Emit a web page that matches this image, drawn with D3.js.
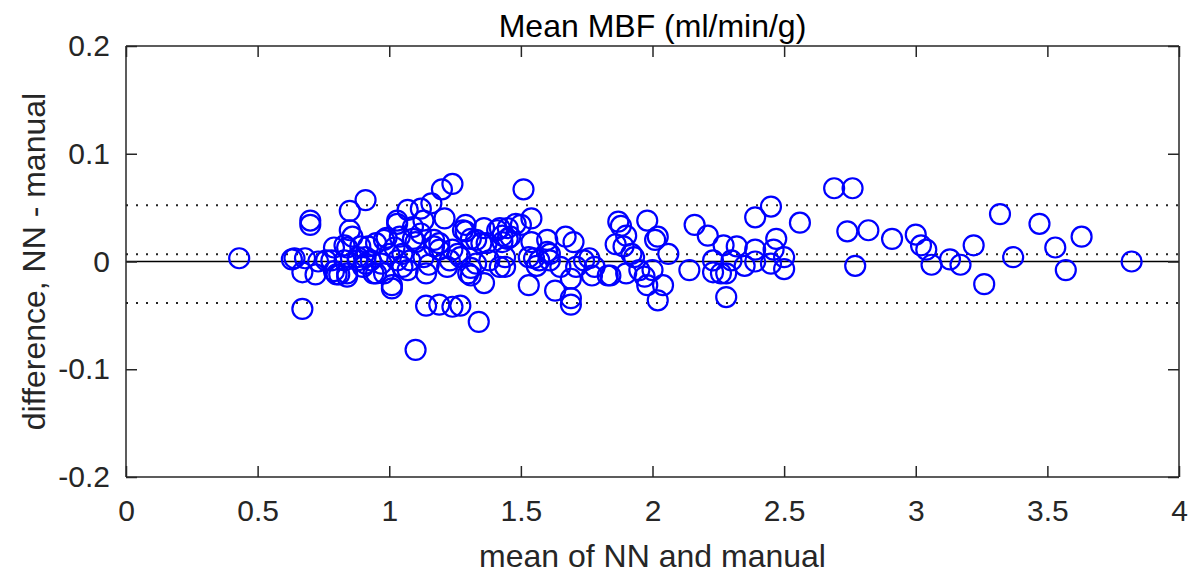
<!DOCTYPE html>
<html>
<head>
<meta charset="utf-8">
<script src="https://cdn.jsdelivr.net/npm/d3@7"></script>
<style>
  body { margin: 0; background: #fff; }
  svg { display: block; font-family: "Liberation Sans", Arial, Helvetica, sans-serif; }
</style>
</head>
<body>
<svg id="chart"></svg>
<script>
// Bland-Altman data: mean of NN and manual (x) vs difference NN - manual (y)
const meanVals = [
  0.43, 0.63, 0.64, 0.68, 0.67, 0.67, 0.70, 0.70, 0.72, 0.73,
  0.76, 0.79, 0.78, 0.79, 0.80, 0.81, 0.83, 0.84, 0.83, 0.84,
  0.84, 0.85, 0.85, 0.86, 0.88, 0.88, 0.89, 0.90, 0.91, 0.91,
  0.92, 0.91, 0.93, 0.94, 0.95, 0.95, 0.97, 0.98, 0.98, 0.99,
  1.00, 1.01, 1.01, 1.02, 1.03, 1.03, 1.03, 1.04, 1.05, 1.05,
  1.07, 1.07, 1.08, 1.09, 1.09, 1.10, 1.10, 1.12, 1.12, 1.13,
  1.13, 1.14, 1.14, 1.15, 1.16, 1.17, 1.17, 1.19, 1.19, 1.19,
  1.20, 1.21, 1.22, 1.23, 1.24, 1.24, 1.24, 1.26, 1.27, 1.27,
  1.28, 1.29, 1.29, 1.30, 1.31, 1.31, 1.31, 1.33, 1.33, 1.34,
  1.35, 1.36, 1.36, 1.37, 1.38, 1.41, 1.42, 1.42, 1.43, 1.43,
  1.44, 1.44, 1.45, 1.45, 1.46, 1.48, 1.50, 1.51, 1.53, 1.53,
  1.54, 1.54, 1.55, 1.56, 1.57, 1.60, 1.60, 1.61, 1.61, 1.63,
  1.65, 1.67, 1.69, 1.69, 1.69, 1.70, 1.71, 1.74, 1.76, 1.77,
  1.78, 1.83, 1.84, 1.86, 1.87, 1.88, 1.89, 1.90, 1.90, 1.92,
  1.93, 1.95, 1.97, 1.98, 1.98, 2.00, 2.01, 2.02, 2.02, 2.04,
  2.06, 2.14, 2.16, 2.21, 2.23, 2.23, 2.26, 2.27, 2.28, 2.28,
  2.30, 2.32, 2.35, 2.39, 2.39, 2.39, 2.45, 2.45, 2.46, 2.47,
  2.50, 2.50, 2.56, 2.69, 2.74, 2.76, 2.77, 2.82, 2.91, 3.00,
  3.02, 3.04, 3.06, 3.13, 3.17, 3.22, 3.26, 3.32, 3.37, 3.47,
  3.53, 3.57, 3.63, 3.82
];
const diffVals = [
  0.003, 0.002, 0.003, 0.003, -0.010, -0.044, 0.038, 0.034, -0.012, 0.000,
  0.001, 0.013, 0.001, -0.009, -0.012, -0.012, 0.015, 0.013, 0.001, -0.011,
  -0.014, 0.047, 0.029, 0.023, 0.004, 0.001, 0.014, -0.005, 0.057, -0.002,
  0.014, 0.004, 0.001, -0.011, 0.017, -0.011, -0.002, 0.020, -0.011, 0.022,
  0.007, -0.022, -0.025, 0.013, 0.038, 0.035, 0.001, 0.023, 0.007, -0.005,
  0.048, -0.008, 0.001, 0.032, 0.021, 0.018, -0.082, 0.049, 0.026, 0.038,
  0.004, -0.011, -0.041, -0.003, 0.054, 0.014, 0.020, 0.017, 0.011, -0.040,
  0.067, 0.040, -0.005, 0.001, 0.072, 0.011, -0.042, 0.007, 0.004, -0.041,
  0.029, 0.034, 0.028, -0.011, -0.013, -0.006, 0.021, 0.020, -0.002, -0.056,
  0.017, 0.031, -0.020, 0.017, 0.001, 0.029, 0.031, -0.005, 0.024, 0.018,
  0.004, -0.005, 0.031, 0.021, 0.023, 0.035, 0.034, 0.067, 0.004, -0.022,
  0.040, 0.018, 0.003, -0.004, 0.001, 0.020, 0.009, 0.001, 0.007, -0.027,
  -0.005, 0.023, -0.016, -0.034, -0.040, 0.018, -0.005, 0.001, 0.003, -0.013,
  -0.005, -0.013, -0.013, 0.016, 0.037, 0.033, 0.014, 0.024, -0.011, 0.007,
  0.004, -0.008, -0.014, 0.038, -0.022, -0.008, 0.020, 0.023, -0.036, -0.022,
  0.007, -0.008, 0.034, 0.024, 0.001, -0.010, -0.011, 0.015, -0.011, -0.033,
  0.001, 0.014, -0.004, 0.041, 0.011, 0.000, 0.051, -0.002, 0.011, 0.021,
  0.004, -0.007, 0.036, 0.068, 0.028, 0.068, -0.004, 0.029, 0.021, 0.025,
  0.015, 0.011, -0.003, 0.002, -0.003, 0.015, -0.021, 0.044, 0.004, 0.035,
  0.013, -0.008, 0.023, 0.000
];

// bias and limits of agreement (dotted lines)
const meanDiff = 0.0068;
const upperLimit = 0.0523;
const lowerLimit = -0.0384;

const xTicks = [0, 0.5, 1, 1.5, 2, 2.5, 3, 3.5, 4];
const yTicks = [-0.2, -0.1, 0, 0.1, 0.2];

const width = 1190;
const height = 576;
const margin = { top: 46, right: 11, bottom: 99, left: 126 };

const svg = d3.select("#chart")
    .attr("width", width)
    .attr("height", height);

const x = d3.scaleLinear().domain([0, 4]).range([margin.left, width - margin.right]);
const y = d3.scaleLinear().domain([-0.2, 0.2]).range([height - margin.bottom, margin.top]);

const axisColor = "#262626";

// reference lines
svg.append("line")
    .attr("x1", x(0)).attr("x2", x(4))
    .attr("y1", y(0)).attr("y2", y(0))
    .attr("stroke", "#000").attr("stroke-width", 1.5);

[meanDiff, upperLimit, lowerLimit].forEach(v => {
    svg.append("line")
        .attr("x1", x(0)).attr("x2", x(4))
        .attr("y1", y(v)).attr("y2", y(v))
        .attr("stroke", "#222").attr("stroke-width", 2)
        .attr("stroke-dasharray", "2,8");
});

// points
const pts = meanVals.map((m, i) => ({ m: m, d: diffVals[i] }));
svg.append("g").selectAll("circle")
    .data(pts)
    .join("circle")
    .attr("cx", d => x(d.m))
    .attr("cy", d => y(d.d))
    .attr("r", 10)
    .attr("fill", "none")
    .attr("stroke", "#0000ff")
    .attr("stroke-width", 2.2);

// axes with inward ticks on all four sides
const tickLen = 11;
const fmt = d => String(d);   // plain hyphen minus like the original

const xAxis = svg.append("g")
    .attr("transform", `translate(0,${y(-0.2)})`)
    .call(d3.axisBottom(x).tickValues(xTicks).tickSize(-tickLen).tickPadding(23).tickFormat(fmt));
const yAxis = svg.append("g")
    .attr("transform", `translate(${x(0)},0)`)
    .call(d3.axisLeft(y).tickValues(yTicks).tickSize(-tickLen).tickPadding(16).tickFormat(fmt));
const xTop = svg.append("g")
    .attr("transform", `translate(0,${y(0.2)})`)
    .call(d3.axisTop(x).tickValues(xTicks).tickSize(-tickLen).tickFormat(""));
const yRight = svg.append("g")
    .attr("transform", `translate(${x(4)},0)`)
    .call(d3.axisRight(y).tickValues(yTicks).tickSize(-tickLen).tickFormat(""));

[xAxis, yAxis, xTop, yRight].forEach(g => {
    g.selectAll(".tick line").attr("stroke", axisColor).attr("stroke-width", 1.5);
    g.selectAll(".tick text").attr("fill", axisColor)
        .style("font-size", "30px")
        .style("font-family", "'Liberation Sans', Arial, Helvetica, sans-serif");
});
// plain box edges, without the outer tick stubs
[xAxis, xTop].forEach(g => g.select(".domain")
    .attr("d", `M${x(0)},0H${x(4)}`).attr("stroke", axisColor).attr("stroke-width", 1.5));
[yAxis, yRight].forEach(g => g.select(".domain")
    .attr("d", `M0,${y(0.2)}V${y(-0.2)}`).attr("stroke", axisColor).attr("stroke-width", 1.5));

// title and labels
svg.append("text")
    .attr("x", (x(0) + x(4)) / 2).attr("y", 37)
    .attr("text-anchor", "middle")
    .attr("fill", "#000")
    .style("font-size", "32px")
    .text("Mean MBF (ml/min/g)");

svg.append("text")
    .attr("x", (x(0) + x(4)) / 2).attr("y", 567)
    .attr("text-anchor", "middle")
    .attr("fill", axisColor)
    .style("font-size", "32px")
    .text("mean of NN and manual");

svg.append("text")
    .attr("transform", `translate(45,${(y(0.2) + y(-0.2)) / 2}) rotate(-90)`)
    .attr("text-anchor", "middle")
    .attr("fill", axisColor)
    .style("font-size", "32px")
    .text("difference, NN - manual");
</script>
</body>
</html>
